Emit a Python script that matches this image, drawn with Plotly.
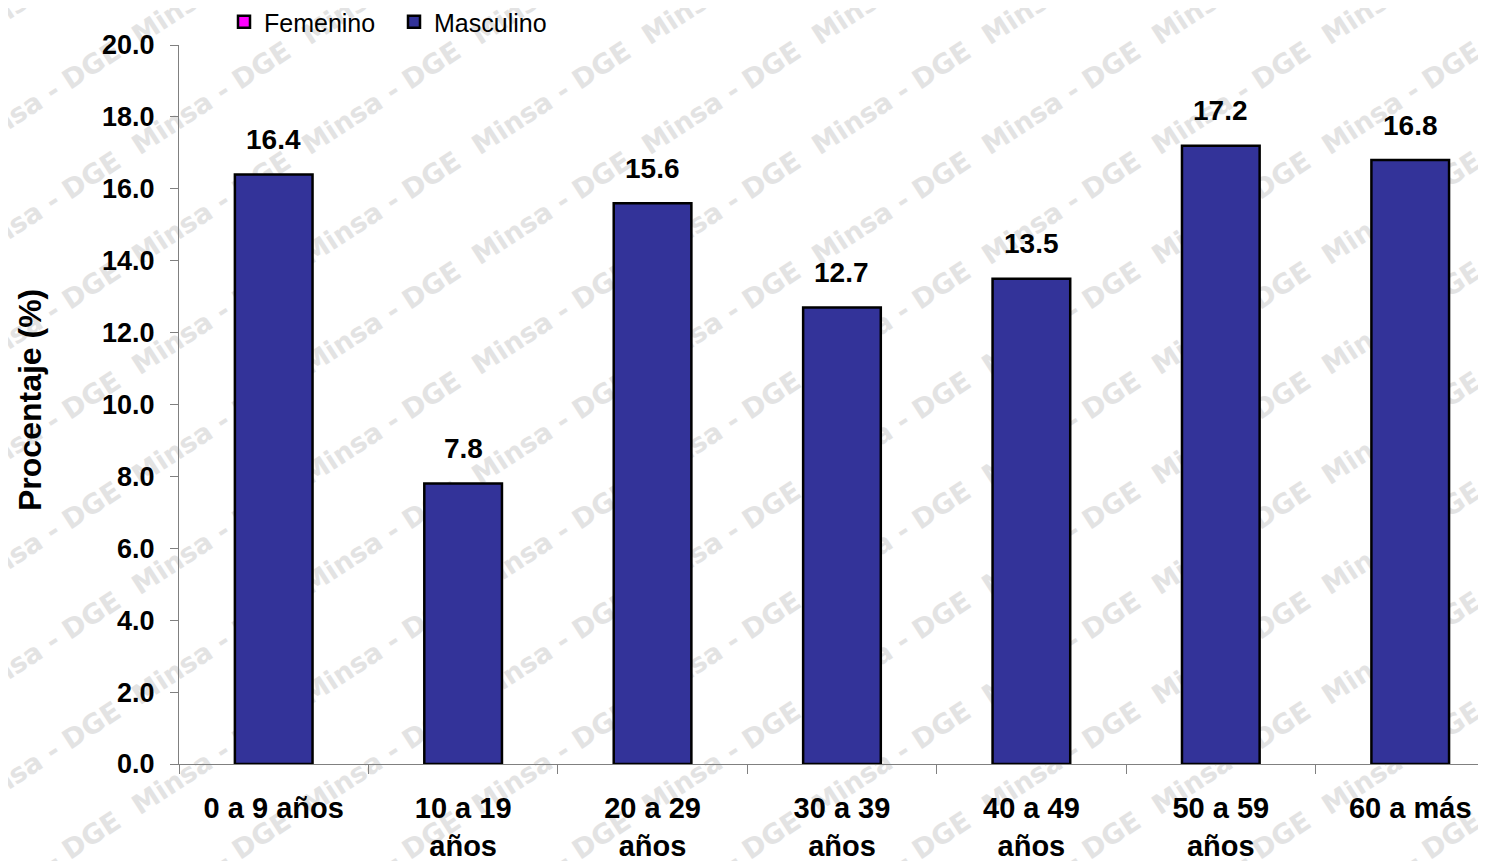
import plotly.graph_objects as go

categories = ["0 a 9 años", "10 a 19<br>años", "20 a 29<br>años", "30 a 39<br>años",
              "40 a 49<br>años", "50 a 59<br>años", "60 a más"]
masculino = [16.4, 7.8, 15.6, 12.7, 13.5, 17.2, 16.8]
femenino = [None, None, None, None, None, None, None]
y_ticks = [0, 2, 4, 6, 8, 10, 12, 14, 16, 18, 20]
watermark_text = "Minsa - DGE"

OFF = 8  # page body margin
W, H = 1486 - OFF, 861 - OFF
ML, MR, MT, MB = 171, 0, 37, 97
PW, PH = W - ML - MR, H - MT - MB

FONT = "Liberation Sans, Arial, sans-serif"


def bold(size):
    return dict(family=FONT, size=size, color="black", weight="bold")


def px_to_paper(sx, sy):
    fx, fy = sx - OFF, sy - OFF
    return (fx - ML) / PW, (H - MB - fy) / PH


fig = go.Figure()
fig.add_trace(go.Bar(
    x=categories, y=femenino, name="Femenino",
    marker=dict(color="#ff00ff", line=dict(color="black", width=2.5)),
    width=0.41,
))
fig.add_trace(go.Bar(
    x=categories, y=masculino, name="Masculino",
    marker=dict(color="#333399", line=dict(color="black", width=2.5)),
    width=0.41,
))

annotations = []
for c, v in zip(categories, masculino):
    annotations.append(dict(
        x=c, y=v, xref="x", yref="y", text=f"{v:.1f}", showarrow=False,
        yanchor="middle", yshift=35, font=bold(28),
    ))
tx, ty = px_to_paper(30, 400)
annotations.append(dict(
    x=tx, y=ty, xref="paper", yref="paper", text="Procentaje (%)",
    xanchor="center", yanchor="middle",
    textangle=-90, showarrow=False, font=bold(32),
))

# watermark (drawn beneath the plot)
shapes = []
for i in range(10):
    for j in range(-1, 9):
        px, py = px_to_paper(40 + 170 * i, 96 + 110 * j)
        shapes.append(dict(
            type="rect", xref="paper", yref="paper",
            x0=px - 0.0005, x1=px + 0.0005, y0=py - 0.0005, y1=py + 0.0005,
            line=dict(width=0), fillcolor="rgba(0,0,0,0)", layer="below",
            label=dict(text=watermark_text, textangle=-33, textposition="middle center",
                       font=dict(family="DejaVu Sans", size=27, color="#e3e3e3", weight="bold")),
        ))

lx, ly = px_to_paper(224, 22)
fig.update_layout(
    width=W, height=H,
    margin=dict(l=ML, r=MR, t=MT, b=MB, autoexpand=False),
    paper_bgcolor="white", plot_bgcolor="rgba(0,0,0,0)",
    barmode="overlay",
    showlegend=True,
    legend=dict(orientation="h", x=lx, y=ly, xanchor="left", yanchor="middle",
                font=dict(family=FONT, size=25, color="black"),
                bgcolor="rgba(0,0,0,0)", itemwidth=30, entrywidth=125, entrywidthmode="pixels"),
    annotations=annotations,
    shapes=shapes,
    xaxis=dict(
        type="category", range=[-0.5, 6.4], tickson="boundaries",
        ticks="outside", ticklen=9, tickcolor="#808080", tickwidth=1,
        showline=True, linecolor="#808080", linewidth=1,
        showgrid=False, zeroline=False, tickfont=bold(29), ticklabelstandoff=18,
        automargin=False,
    ),
    yaxis=dict(
        range=[0, 20], tickvals=y_ticks, tickformat=".1f",
        ticks="outside", ticklen=8, tickcolor="#808080", tickwidth=1,
        showline=True, linecolor="#808080", linewidth=1,
        showgrid=False, zeroline=False, tickfont=bold(27), ticklabelstandoff=10,
        automargin=False,
    ),
)

fig.write_html("out.html")
